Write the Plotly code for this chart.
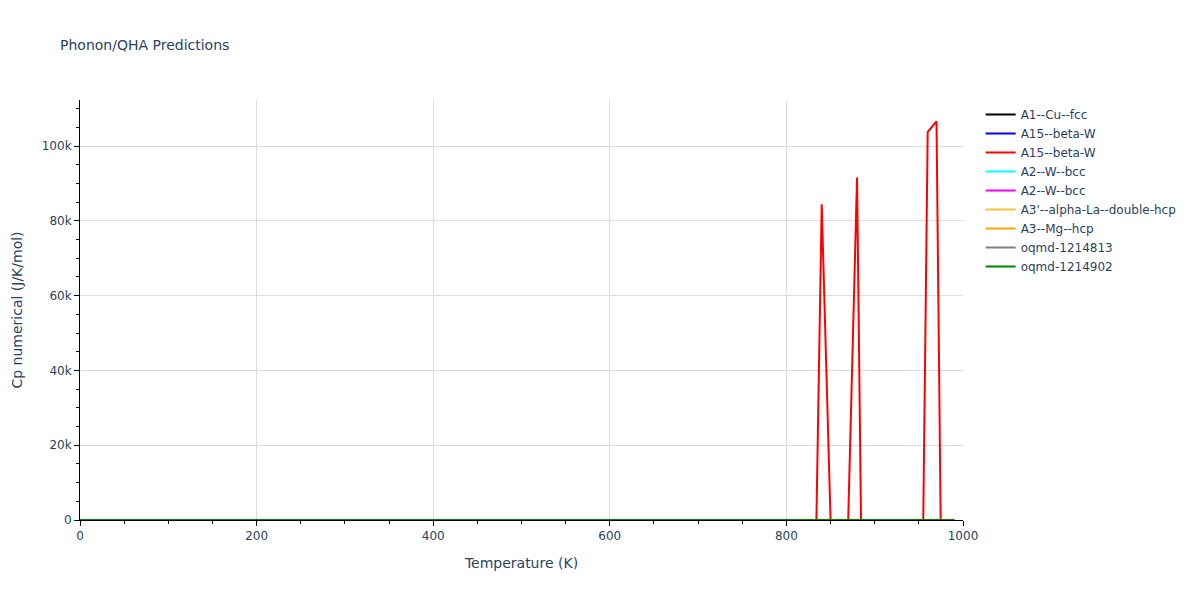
import plotly.graph_objects as go

# Temperatures (K) for the smooth, near-zero curves
T_coarse = [0, 50, 100, 200, 300, 400, 500, 600, 700, 800, 900, 990]

# Cp values (J/K/mol) for the near-zero curves (invisible at this scale)
cp_cu_fcc = [0, 6, 16, 22, 24, 24.5, 25, 25.3, 25.6, 26, 26.3, 26.6]
cp_a15_blue = [0, 5, 14, 21, 23, 24, 24.5, 25, 25.3, 25.6, 26, 26.2]
cp_w_bcc_cyan = [0, 4, 12, 20, 23, 24, 24.5, 24.8, 25, 25.3, 25.6, 26]
cp_w_bcc_magenta = [0, 4, 12, 20, 23, 24, 24.5, 24.8, 25, 25.3, 25.6, 26]
cp_la_dhcp = [0, 8, 18, 23, 24.5, 25, 25.4, 25.7, 26, 26.3, 26.6, 27]
cp_mg_hcp = [0, 5, 15, 21.5, 23.5, 24.3, 24.8, 25.2, 25.5, 25.8, 26.1, 26.4]
cp_oqmd_1214813 = [0, 6, 16, 22, 24, 24.6, 25, 25.3, 25.6, 25.9, 26.2, 26.5]
cp_oqmd_1214902 = [0, 6, 16, 22, 24, 24.6, 25, 25.3, 25.6, 25.9, 26.2, 26.5]

# Red A15--beta-W curve: numerical Cp with spikes at high temperature
T_red = [0, 50, 100, 200, 300, 400, 500, 600, 700, 800, 820, 830, 840, 850, 860,
         870, 880, 890, 900, 940, 950, 960, 970, 980, 990]
cp_red = [0, 5, 14, 21, 23, 24, 24.5, 25, 25.3, 25.6, 25.8, -56000, 84400, 0, 26,
          0, 91600, -112000, 26, 26, -103700, 103700, 106600, -120000, 26]

traces = [
    ("A1--Cu--fcc", "black", T_coarse, cp_cu_fcc),
    ("A15--beta-W", "blue", T_coarse, cp_a15_blue),
    ("A15--beta-W", "red", T_red, cp_red),
    ("A2--W--bcc", "cyan", T_coarse, cp_w_bcc_cyan),
    ("A2--W--bcc", "magenta", T_coarse, cp_w_bcc_magenta),
    ("A3'--alpha-La--double-hcp", "#F2C63A", T_coarse, cp_la_dhcp),
    ("A3--Mg--hcp", "orange", T_coarse, cp_mg_hcp),
    ("oqmd-1214813", "grey", T_coarse, cp_oqmd_1214813),
    ("oqmd-1214902", "green", T_coarse, cp_oqmd_1214902),
]

fig = go.Figure()
for name, color, x, y in traces:
    fig.add_trace(go.Scatter(x=x, y=y, mode="lines", name=name,
                             line=dict(color=color, width=2)))

fig.update_layout(
    template="plotly_white",
    width=1200, height=600,
    margin=dict(l=80, r=237, t=100, b=80),
    font=dict(family="Verdana, DejaVu Sans, sans-serif", size=12, color="#2a3f5f"),
    title=dict(text="Phonon/QHA Predictions", font=dict(size=14)),
    legend=dict(x=1.02, xanchor="left", y=1, yanchor="top"),
    xaxis=dict(title=dict(text="Temperature (K)", font=dict(size=14)), range=[0, 1000], dtick=200,
               showline=True, linecolor="black", ticks="outside",
               tickcolor="black", gridcolor="#dddddd", zeroline=False,
               minor=dict(dtick=50, ticks="outside", tickcolor="black", showgrid=False)),
    yaxis=dict(title=dict(text="Cp numerical (J/K/mol)", font=dict(size=14)), range=[0, 112300], dtick=20000,
               showline=True, linecolor="black", ticks="outside",
               tickcolor="black", gridcolor="#dddddd", zeroline=False,
               minor=dict(dtick=5000, ticks="outside", tickcolor="black", showgrid=False)),
)

fig.write_html("out.html", config={"displayModeBar": False},
               post_script="document.body.style.margin='0';")
